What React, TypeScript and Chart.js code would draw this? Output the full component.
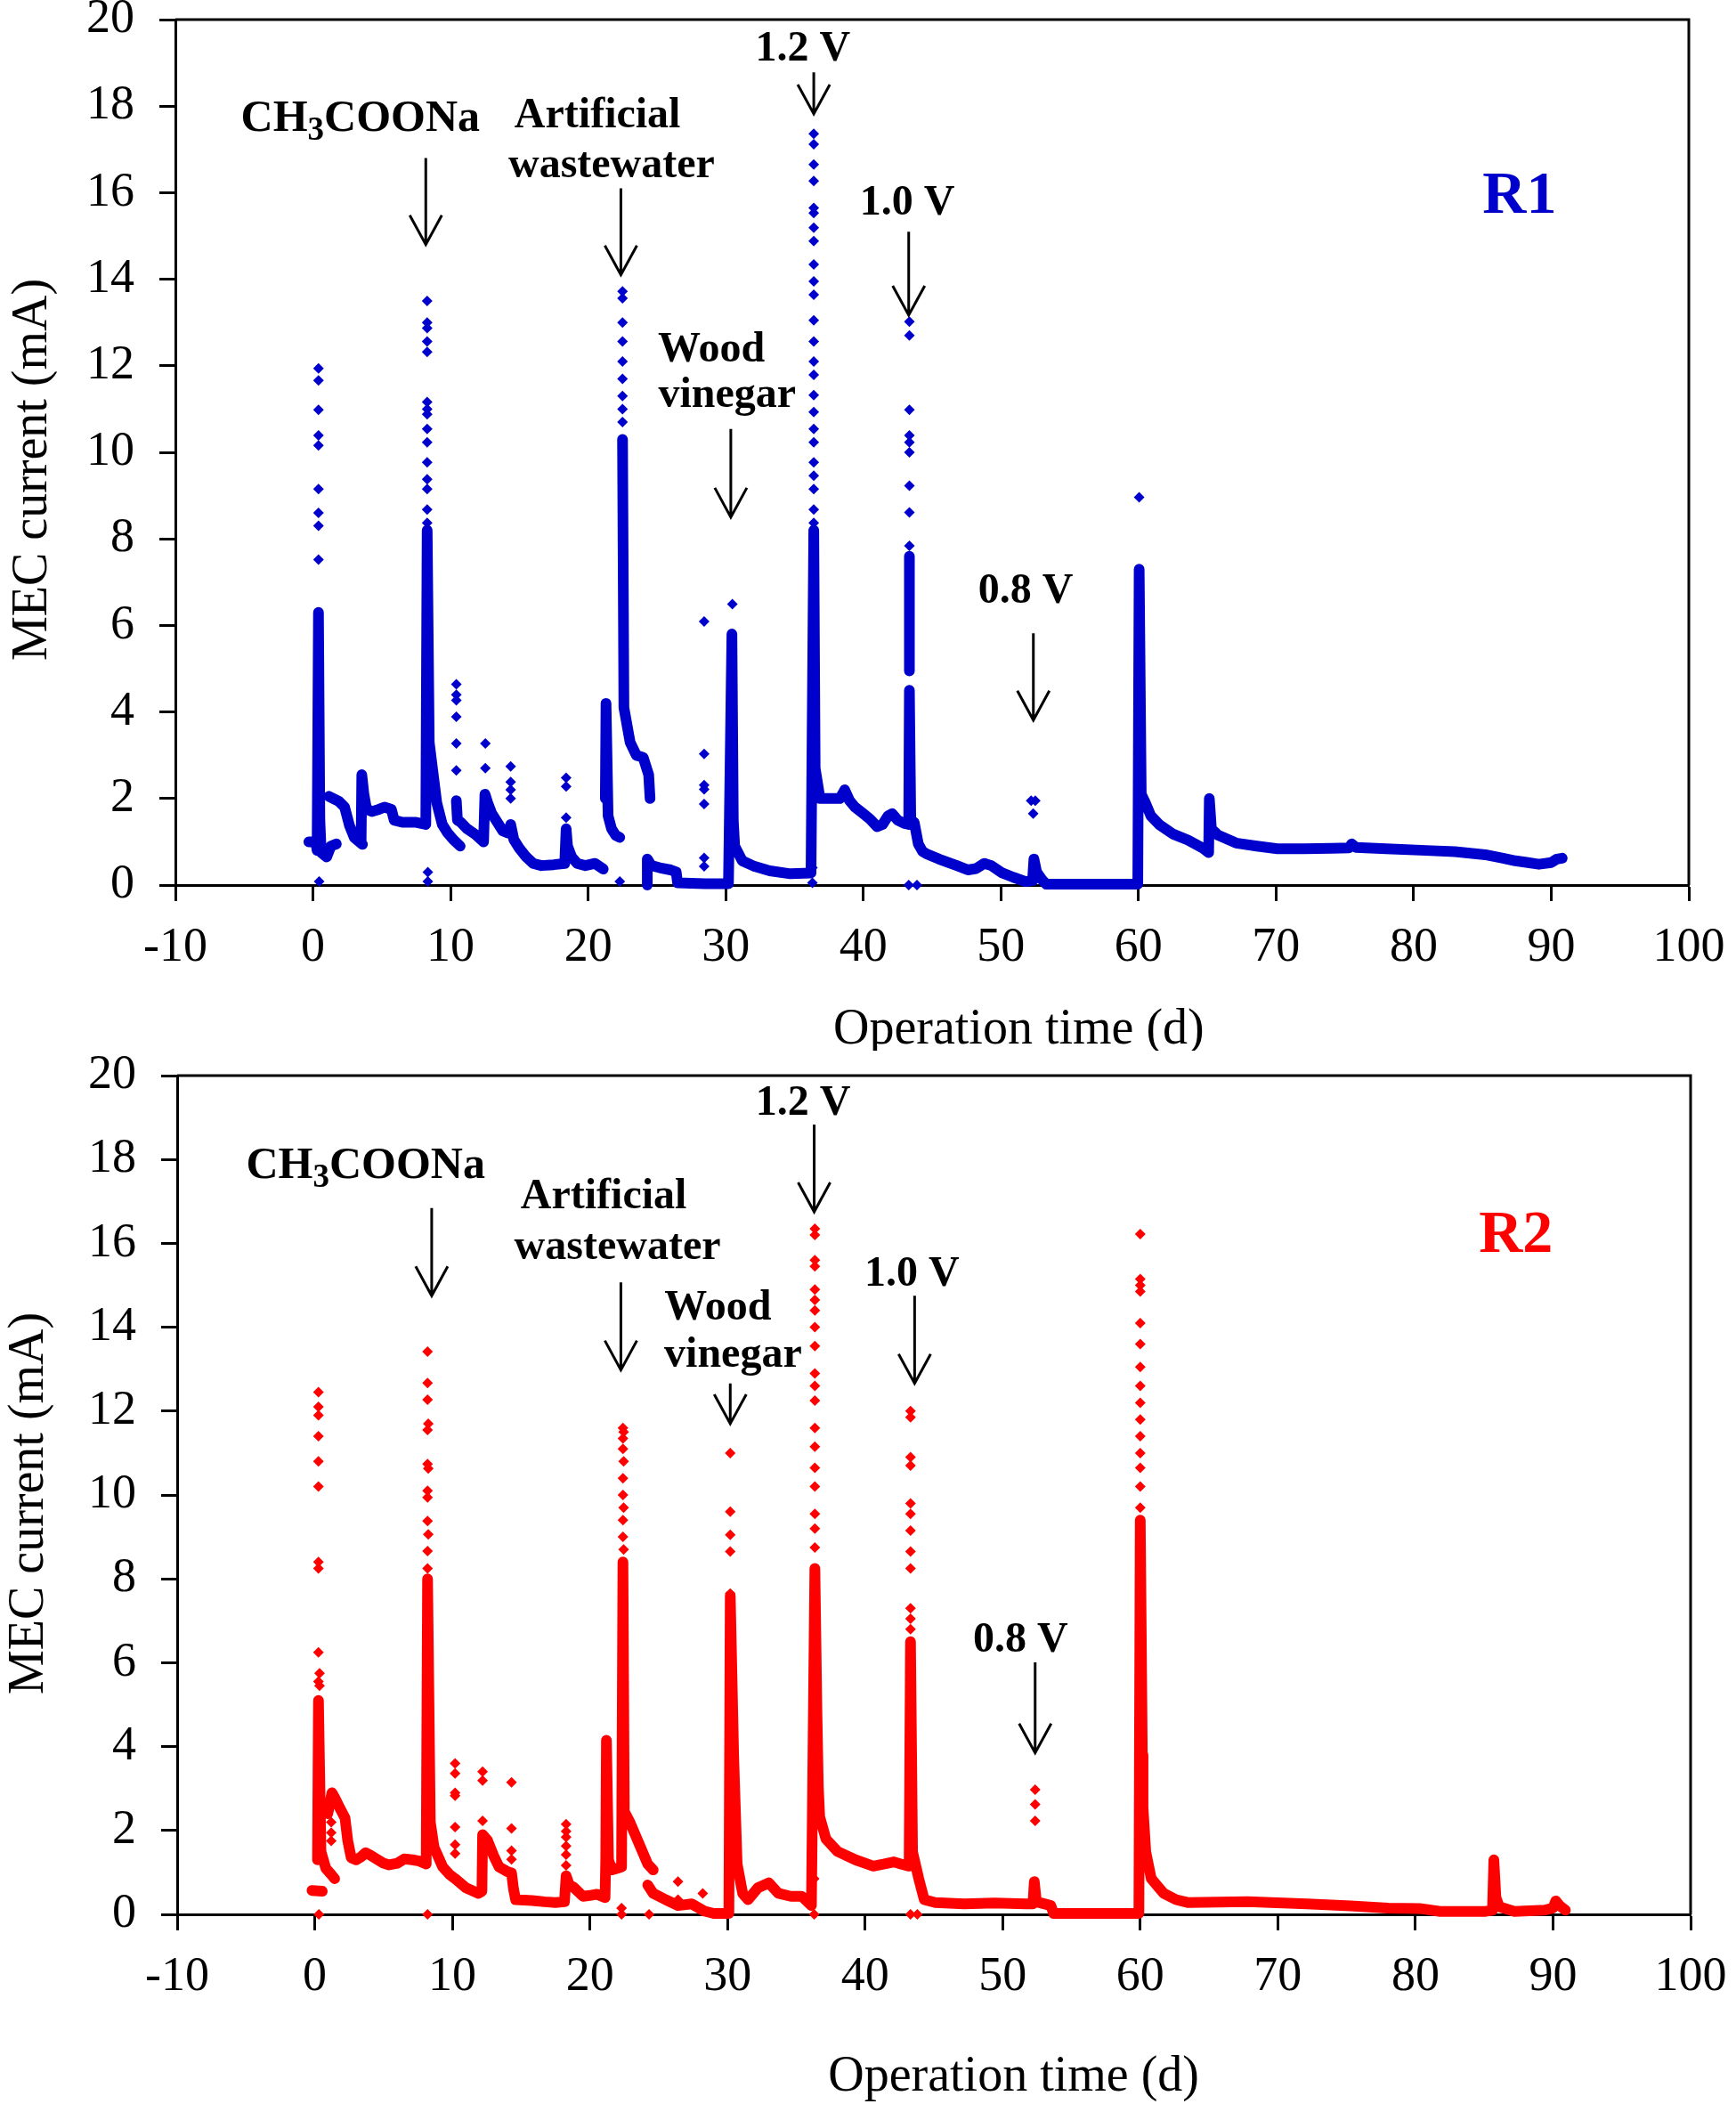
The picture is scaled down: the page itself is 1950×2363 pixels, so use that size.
import { useEffect, useRef } from "react"
import { Chart, registerables } from "chart.js"

Chart.register(...registerables)

// [day, current mA]; null breaks the trace
type Pt = [number, number] | null

const FONT = "'Liberation Serif', 'Times New Roman', Times, serif"

// R1 dense part of the record (drawn as a thick trace)
const r1Trace: Pt[] = [
  [-0.3, 1.0], [0.2, 1.0], [0.3, 0.8], [0.4, 6.3], [0.5, 1.5], [0.6, 0.75], [1.0, 0.65], [1.3, 0.9], [1.7, 0.95], null,
  [1.15, 2.05], [1.9, 1.93], [2.3, 1.8], [2.65, 1.38], [3.0, 1.1], [3.6, 0.94], null,
  [3.5, 1.0], [3.55, 2.55], [3.7, 2.1], [3.9, 1.75], [4.3, 1.7], [4.8, 1.75], [5.2, 1.8], [5.7, 1.75], [5.9, 1.5],
  [6.5, 1.45], [7.5, 1.45], [8.2, 1.4], [8.3, 8.2], [8.45, 3.3], [8.8, 2.4], [9.0, 1.9], [9.4, 1.4], [9.8, 1.2],
  [10.2, 1.05], [10.7, 0.9], null,
  [10.42, 1.95], [10.5, 1.5], [10.75, 1.45], [11.2, 1.3], [11.8, 1.17], [12.4, 1.0], [12.5, 2.1], [12.7, 1.9],
  [13.0, 1.65], [13.4, 1.45], [13.8, 1.25], [14.2, 1.2], [14.37, 1.4], [14.6, 1.05], [15.0, 0.85], [15.5, 0.65],
  [16.0, 0.5], [16.6, 0.45], [17.5, 0.47], [18.3, 0.5], [18.4, 1.3], [18.5, 0.9], [18.8, 0.65], [19.2, 0.5],
  [19.8, 0.45], [20.5, 0.5], [21.1, 0.37], null,
  [21.25, 2.0], [21.3, 4.2], [21.45, 1.6], [21.7, 1.3], [22.0, 1.15], [22.3, 1.1], null,
  [22.5, 10.3], [22.6, 4.1], [23.05, 3.3], [23.5, 3.0], [24.0, 2.95], [24.4, 2.55], [24.5, 2.0], null,
  [24.3, 0.0], [24.3, 0.6], [24.6, 0.45], [25.2, 0.4], [26.0, 0.35], [26.4, 0.3], [26.5, 0.05], [28.5, 0.03],
  [30.2, 0.03], [30.45, 5.8], [30.55, 1.5], [30.65, 0.9], [31.2, 0.56], [32.1, 0.43], [33.2, 0.33], [34.7, 0.26],
  [36.2, 0.28], [36.4, 8.2], [36.5, 2.7], [36.85, 2.0], [37.5, 2.0], [38.3, 2.0], [38.65, 2.2], [39.0, 1.95],
  [39.4, 1.8], [40.0, 1.65], [40.5, 1.52], [41.0, 1.35], [41.4, 1.4], [41.8, 1.6], [42.1, 1.65], [42.5, 1.5],
  [43.0, 1.42], [43.3, 1.4], [43.35, 4.5], [43.45, 1.5], [43.7, 1.45], [44.0, 0.95], [44.3, 0.78], [44.6, 0.72],
  [45.5, 0.6], [46.8, 0.45], [47.6, 0.35], [48.2, 0.38], [48.8, 0.5], [49.3, 0.45], [50.1, 0.28], [50.9, 0.18],
  [51.8, 0.08], [52.3, 0.1], [52.4, 0.6], [52.6, 0.3], [53.0, 0.12], [53.3, 0.02], [59.95, 0.02], [60.05, 7.3],
  [60.2, 2.1], [60.5, 1.9], [60.9, 1.6], [61.5, 1.4], [62.5, 1.18], [63.6, 1.04], [64.7, 0.85], [65.1, 0.75],
  [65.15, 2.0], [65.3, 1.3], [65.8, 1.15], [67.1, 0.97], [68.6, 0.9], [70.1, 0.84], [72.0, 0.84], [74.0, 0.85],
  [75.3, 0.86], [75.5, 0.95], [75.8, 0.87], [78.0, 0.84], [80.9, 0.8], [83.0, 0.77], [85.2, 0.7], [86.5, 0.62],
  [87.4, 0.56], [88.3, 0.52], [89.1, 0.48], [90.0, 0.52], [90.4, 0.6], [90.8, 0.62], null,
  [43.35, 4.95], [43.35, 7.6],
]

// R1 sparse points (spike tops and stray readings)
const r1Dots: Pt[] = [
  [0.4, 11.94], [0.4, 11.66], [0.4, 10.98], [0.4, 10.39], [0.4, 10.16], [0.4, 9.15], [0.4, 8.6], [0.4, 8.3],
  [0.4, 7.52], [0.45, 0.08],
  [8.3, 13.5], [8.3, 13.0], [8.3, 12.87], [8.3, 12.56], [8.3, 12.32], [8.3, 11.16], [8.3, 11.0], [8.3, 10.88],
  [8.3, 10.54], [8.3, 10.23], [8.3, 9.77], [8.3, 9.38], [8.3, 9.15], [8.3, 8.68], [8.3, 8.37], [8.35, 2.0],
  [8.35, 0.3], [8.35, 0.08],
  [10.42, 4.64], [10.42, 4.4], [10.42, 4.27], [10.42, 3.89], [10.42, 3.27], [10.42, 2.65],
  [12.53, 3.27], [12.53, 2.7],
  [14.37, 2.74], [14.37, 2.38], [14.37, 2.2], [14.37, 2.0],
  [18.4, 2.48], [18.4, 2.28], [18.4, 1.56],
  [22.5, 13.72], [22.5, 13.56], [22.5, 13.0], [22.5, 12.56], [22.5, 12.1], [22.5, 11.7], [22.5, 11.3],
  [22.5, 11.0], [22.5, 10.7], [22.3, 0.08],
  [28.43, 6.09], [28.43, 3.03], [28.43, 2.31], [28.43, 2.21], [28.43, 1.87], [28.43, 0.63], [28.43, 0.43],
  [30.48, 6.49],
  [36.4, 17.36], [36.4, 17.12], [36.4, 16.65], [36.4, 16.27], [36.4, 15.65], [36.4, 15.53], [36.4, 15.19],
  [36.4, 14.88], [36.4, 14.34], [36.4, 13.95], [36.4, 13.64], [36.4, 13.05], [36.4, 12.56], [36.4, 12.1],
  [36.4, 11.79], [36.4, 11.32], [36.4, 10.93], [36.4, 10.54], [36.4, 10.23], [36.4, 9.77], [36.4, 9.46],
  [36.4, 9.15], [36.4, 8.68], [36.4, 8.37], [36.3, 0.4], [36.3, 0.05],
  [43.35, 13.02], [43.35, 12.7], [43.35, 10.98], [43.35, 10.39], [43.35, 10.23], [43.35, 10.0], [43.35, 9.23],
  [43.35, 8.61], [43.35, 7.84], [43.3, 0.0], [43.9, 0.0],
  [52.2, 1.95], [52.5, 1.95], [52.35, 1.65],
  [60.05, 8.96],
]

// R2 dense part of the record
const r2Trace: Pt[] = [
  [-0.2, 0.57], [0.55, 0.55], null,
  [0.2, 1.3], [0.27, 5.1], [0.45, 1.5], [0.8, 1.1], [1.2, 0.95], [1.45, 0.85], null,
  [0.95, 2.4], [1.25, 2.9], [1.5, 2.75], [1.8, 2.55], [2.2, 2.3], [2.4, 1.75], [2.65, 1.35], [3.0, 1.3],
  [3.4, 1.38], [3.7, 1.47], [4.1, 1.4], [4.6, 1.3], [5.0, 1.22], [5.4, 1.18], [6.0, 1.22], [6.5, 1.32],
  [7.1, 1.3], [7.6, 1.27], [8.1, 1.2], [8.2, 8.0], [8.4, 2.2], [8.67, 1.6], [9.3, 1.13], [9.8, 0.95],
  [10.2, 0.85], [11.0, 0.63], [11.9, 0.5], [12.15, 0.55], [12.2, 1.9], [12.55, 1.77], [13.0, 1.4], [13.4, 1.13],
  [14.0, 1.02], [14.3, 0.99], [14.45, 0.6], [14.6, 0.35], [15.8, 0.33], [16.7, 0.3], [17.5, 0.28], [18.15, 0.3],
  [18.27, 0.92], [18.5, 0.7], [18.8, 0.65], [19.5, 0.43], [20.0, 0.45], [20.5, 0.48], [21.1, 0.4], [21.15, 1.3],
  [21.2, 4.15], [21.35, 1.3], [21.6, 1.06], [22.0, 1.1], [22.3, 1.13], [22.4, 8.4], [22.5, 2.45], [22.9, 2.2],
  [23.55, 1.7], [24.2, 1.2], [24.6, 1.06], null,
  [24.2, 0.7], [24.6, 0.5], [25.5, 0.35], [26.4, 0.21], [27.4, 0.25], [28.3, 0.08], [29.0, 0.02], [30.1, 0.02],
  [30.2, 7.6], [30.45, 3.75], [30.7, 1.2], [31.1, 0.5], [31.5, 0.35], [32.2, 0.63], [33.0, 0.75], [33.7, 0.5],
  [34.6, 0.43], [35.4, 0.43], [36.1, 0.21], [36.35, 8.25], [36.5, 4.8], [36.6, 3.05], [36.7, 2.33], [37.15, 1.8],
  [38.0, 1.5], [39.3, 1.3], [40.6, 1.15], [41.4, 1.2], [42.1, 1.25], [42.6, 1.2], [43.2, 1.15], [43.3, 6.5],
  [43.45, 1.49], [43.9, 0.85], [44.3, 0.35], [45.1, 0.28], [47.2, 0.25], [49.4, 0.27], [51.7, 0.25], [52.2, 0.25],
  [52.3, 0.78], [52.45, 0.3], [53.5, 0.21], [53.7, 0.02], [59.9, 0.02], [60.0, 9.4], [60.15, 3.8], [60.2, 2.55],
  [60.4, 1.49], [60.8, 0.85], [61.7, 0.5], [62.6, 0.35], [63.5, 0.28], [67.8, 0.3], [72.1, 0.25], [75.3, 0.2],
  [78.0, 0.15], [80.3, 0.14], [81.8, 0.07], [85.1, 0.07], [85.6, 0.1], [85.7, 1.3], [85.85, 0.4], [86.1, 0.18],
  [87.2, 0.07], [89.4, 0.1], [90.0, 0.15], [90.2, 0.32], [90.5, 0.2], [90.9, 0.1],
]

// R2 sparse points
const r2Dots: Pt[] = [
  [0.27, 12.45], [0.27, 12.1], [0.27, 11.9], [0.27, 11.4], [0.27, 10.8], [0.27, 10.2], [0.27, 8.4], [0.27, 8.25],
  [0.27, 6.25], [0.35, 5.75], [0.27, 5.55], [0.35, 5.45], [0.3, 0.0], [1.2, 2.2], [1.2, 1.95], [1.2, 1.75],
  [8.2, 13.42], [8.2, 12.67], [8.2, 12.27], [8.25, 11.7], [8.2, 11.55], [8.2, 10.74], [8.25, 10.63], [8.2, 10.1],
  [8.2, 9.94], [8.2, 9.38], [8.25, 9.06], [8.2, 8.66], [8.2, 8.25], [8.2, 0.0],
  [10.2, 3.6], [10.2, 3.36], [10.2, 2.9], [10.2, 2.83], [10.2, 2.08], [10.2, 1.66], [10.2, 1.45],
  [12.2, 3.4], [12.2, 3.19], [12.2, 2.23],
  [14.3, 3.15], [14.3, 2.05], [14.3, 1.52], [14.3, 1.31],
  [18.27, 2.15], [18.27, 1.98], [18.27, 1.84], [18.27, 1.63], [18.27, 1.42], [18.27, 1.17],
  [22.4, 11.6], [22.45, 11.5], [22.4, 11.35], [22.4, 11.1], [22.45, 10.8], [22.4, 10.4], [22.4, 10.0],
  [22.45, 9.7], [22.4, 9.4], [22.4, 9.0], [22.45, 8.7], [22.3, 0.15], [22.3, 0.0],
  [24.3, 0.0], [26.4, 0.78], [26.4, 0.35], [28.2, 0.5],
  [30.2, 11.0], [30.2, 9.6], [30.2, 9.05], [30.2, 8.65], [30.2, 7.65],
  [36.35, 16.35], [36.35, 16.2], [36.35, 15.6], [36.35, 15.45], [36.35, 14.9], [36.35, 14.65], [36.35, 14.4],
  [36.35, 14.0], [36.35, 13.55], [36.35, 12.9], [36.35, 12.6], [36.35, 12.25], [36.35, 11.6], [36.35, 11.15],
  [36.35, 10.65], [36.35, 10.2], [36.35, 9.55], [36.35, 9.2], [36.35, 8.75], [36.3, 0.85], [36.3, 0.0],
  [43.3, 12.0], [43.3, 11.85], [43.3, 10.9], [43.3, 10.7], [43.3, 9.8], [43.3, 9.55], [43.3, 9.15], [43.3, 8.65],
  [43.3, 8.25], [43.3, 7.3], [43.3, 7.05], [43.3, 6.8], [43.3, 0.0], [43.8, 0.0],
  [52.36, 2.97], [52.36, 2.62], [52.36, 2.23],
  [60.0, 16.22], [60.0, 15.15], [60.0, 15.0], [60.0, 14.85], [60.0, 14.1], [60.0, 13.6], [60.0, 13.05],
  [60.0, 12.6], [60.0, 12.2], [60.0, 11.8], [60.0, 11.4], [60.0, 11.0], [60.0, 10.65], [60.0, 10.2], [60.0, 9.7],
]

// annotation texts: [text, day, current at baseline]
const r1Notes: [string, number, number][] = [
  ["Artificial", 20.68, 17.51], ["wastewater", 21.7, 16.36], ["Wood", 28.96, 12.1], ["vinegar", 30.1, 11.05],
  ["1.2 V", 35.6, 19.05], ["1.0 V", 43.2, 15.5], ["0.8 V", 51.8, 6.52],
]
const r2Notes: [string, number, number][] = [
  ["Artificial", 21.0, 16.84], ["wastewater", 22.0, 15.63], ["Wood", 29.3, 14.18], ["vinegar", 30.4, 13.06],
  ["1.2 V", 35.5, 19.07], ["1.0 V", 43.4, 15.0], ["0.8 V", 51.3, 6.26],
]
// arrows: [day, tail current, tip current]
const r1Arrows: [number, number, number][] = [
  [8.2, 16.8, 14.8], [22.38, 16.1, 14.1], [30.37, 10.54, 8.5], [36.4, 18.78, 17.82], [43.3, 15.1, 13.17],
  [52.36, 5.82, 3.81],
]
const r2Arrows: [number, number, number][] = [
  [8.5, 16.84, 14.75], [22.25, 15.07, 12.98], [30.2, 12.66, 11.7], [36.3, 18.83, 16.75], [43.6, 14.75, 12.66],
  [52.36, 6.01, 3.85],
]

const toPoints = (pts: Pt[]) => pts.map((p) => (p ? { x: p[0], y: p[1] } : { x: NaN, y: null }))

function makeChart(canvas: HTMLCanvasElement, p: any) {
  const H = canvas.height
  const axisGrid = {
    display: true,
    drawOnChartArea: false,
    drawTicks: true,
    tickLength: 18,
    tickColor: "#000",
    tickWidth: 3,
  }
  const decor = {
    id: "decor",
    afterDraw(chart: any) {
      const { ctx, chartArea: a, scales } = chart
      const xs = scales.x
      const ys = scales.y
      ctx.save()
      ctx.strokeStyle = "#000"
      ctx.lineWidth = 3
      ctx.beginPath()
      ctx.moveTo(a.left, a.top)
      ctx.lineTo(a.right, a.top)
      ctx.lineTo(a.right, a.bottom)
      ctx.stroke()

      for (const [d, v1, v2] of p.arrows) {
        const px = xs.getPixelForValue(d)
        const y1 = ys.getPixelForValue(v1)
        const y2 = ys.getPixelForValue(v2)
        ctx.beginPath()
        ctx.moveTo(px, y1)
        ctx.lineTo(px, y2)
        ctx.moveTo(px - 18, y2 - 33)
        ctx.lineTo(px, y2)
        ctx.lineTo(px + 18, y2 - 33)
        ctx.stroke()
      }

      ctx.fillStyle = "#000"
      ctx.textBaseline = "alphabetic"
      ctx.textAlign = "center"
      ctx.font = `bold 48px ${FONT}`
      for (const [t, d, v] of p.notes) ctx.fillText(t, xs.getPixelForValue(d), ys.getPixelForValue(v))

      // CH3COONa with subscript
      const parts: [string, number, number][] = [["CH", 50, 0], ["3", 37, 10], ["COONa", 50, 0]]
      let total = 0
      const widths = parts.map(([s, size]) => {
        ctx.font = `bold ${size}px ${FONT}`
        const w = ctx.measureText(s).width
        total += w
        return w
      })
      let cx = xs.getPixelForValue(p.chem[0]) - total / 2
      const cy = ys.getPixelForValue(p.chem[1])
      ctx.textAlign = "left"
      parts.forEach(([s, size, dy], i) => {
        ctx.font = `bold ${size}px ${FONT}`
        ctx.fillText(s, cx, cy + dy)
        cx += widths[i]
      })

      ctx.textAlign = "center"
      ctx.fillStyle = p.color
      ctx.font = `bold 68px ${FONT}`
      ctx.fillText(p.label, xs.getPixelForValue(p.labelAt[0]), ys.getPixelForValue(p.labelAt[1]))

      ctx.fillStyle = "#000"
      ctx.font = `56px ${FONT}`
      ctx.fillText("Operation time (d)", xs.getPixelForValue(p.xTitle[0]), a.bottom + p.xTitle[1])

      ctx.translate(p.yTitle[0], ys.getPixelForValue(p.yTitle[1]))
      ctx.rotate(-Math.PI / 2)
      ctx.fillText("MEC current (mA)", 0, 0)
      ctx.restore()
    },
  }

  return new Chart(canvas, {
    type: "scatter",
    data: {
      datasets: [
        {
          data: toPoints(p.trace),
          showLine: true,
          spanGaps: false,
          borderColor: p.color,
          backgroundColor: p.color,
          borderWidth: 12,
          borderJoinStyle: "round",
          borderCapStyle: "round",
          pointRadius: 0,
          pointHoverRadius: 0,
          clip: false,
        },
        {
          data: toPoints(p.dots),
          pointStyle: "rectRot",
          pointRadius: 6,
          pointHoverRadius: 6,
          backgroundColor: p.color,
          borderColor: p.color,
          borderWidth: 0,
          clip: false,
        },
      ],
    } as any,
    options: {
      responsive: false,
      animation: false,
      devicePixelRatio: 1,
      events: [],
      layout: { padding: { left: 0, top: p.area.top, right: 1950 - p.area.right, bottom: 0 } },
      plugins: { legend: { display: false }, tooltip: { enabled: false } },
      scales: {
        x: {
          type: "linear",
          min: -10,
          max: 100,
          ticks: {
            stepSize: 10,
            autoSkip: false,
            maxRotation: 0,
            padding: 20,
            color: "#000",
            font: { family: FONT, size: 54 },
          },
          grid: axisGrid,
          border: { display: true, color: "#000", width: 3 },
          afterFit: (s: any) => {
            s.height = H - p.area.bottom
            s.paddingLeft = 0
            s.paddingRight = 0
          },
        },
        y: {
          type: "linear",
          min: 0,
          max: 20,
          ticks: {
            stepSize: 2,
            padding: 28,
            color: "#000",
            font: { family: FONT, size: 54 },
          },
          grid: axisGrid,
          border: { display: true, color: "#000", width: 3 },
          afterFit: (s: any) => {
            s.width = p.area.left
            s.paddingTop = 0
            s.paddingBottom = 0
          },
        },
      },
    } as any,
    plugins: [decor],
  })
}

const panels = [
  {
    trace: r1Trace,
    dots: r1Dots,
    color: "#0000CC",
    label: "R1",
    labelAt: [87.7, 15.53],
    notes: r1Notes,
    arrows: r1Arrows,
    chem: [3.45, 17.43],
    area: { left: 197, top: 22, right: 1897, bottom: 994 },
    xTitle: [51.3, 178],
    yTitle: [52, 9.6],
    top: 0,
    height: 1180,
  },
  {
    trace: r2Trace,
    dots: r2Dots,
    color: "#FF0000",
    label: "R2",
    labelAt: [87.3, 15.8],
    notes: r2Notes,
    arrows: r2Arrows,
    chem: [3.7, 17.56],
    area: { left: 199, top: 28, right: 1899, bottom: 970 },
    xTitle: [50.8, 198],
    yTitle: [48, 9.8],
    top: 1180,
    height: 1183,
  },
]

function Panel({ p }: { p: any }) {
  const ref = useRef<HTMLCanvasElement>(null)
  useEffect(() => {
    if (!ref.current) return
    const chart = makeChart(ref.current, p)
    return () => chart.destroy()
  }, [p])
  return (
    <canvas
      ref={ref}
      width={1950}
      height={p.height}
      style={{ position: "absolute", left: 0, top: p.top, width: 1950, height: p.height, display: "block" }}
    />
  )
}

export default function App() {
  return (
    <div style={{ position: "absolute", left: 0, top: 0, width: 1950, height: 2363, background: "#fff" }}>
      {panels.map((p) => (
        <Panel key={p.label} p={p} />
      ))}
    </div>
  )
}
